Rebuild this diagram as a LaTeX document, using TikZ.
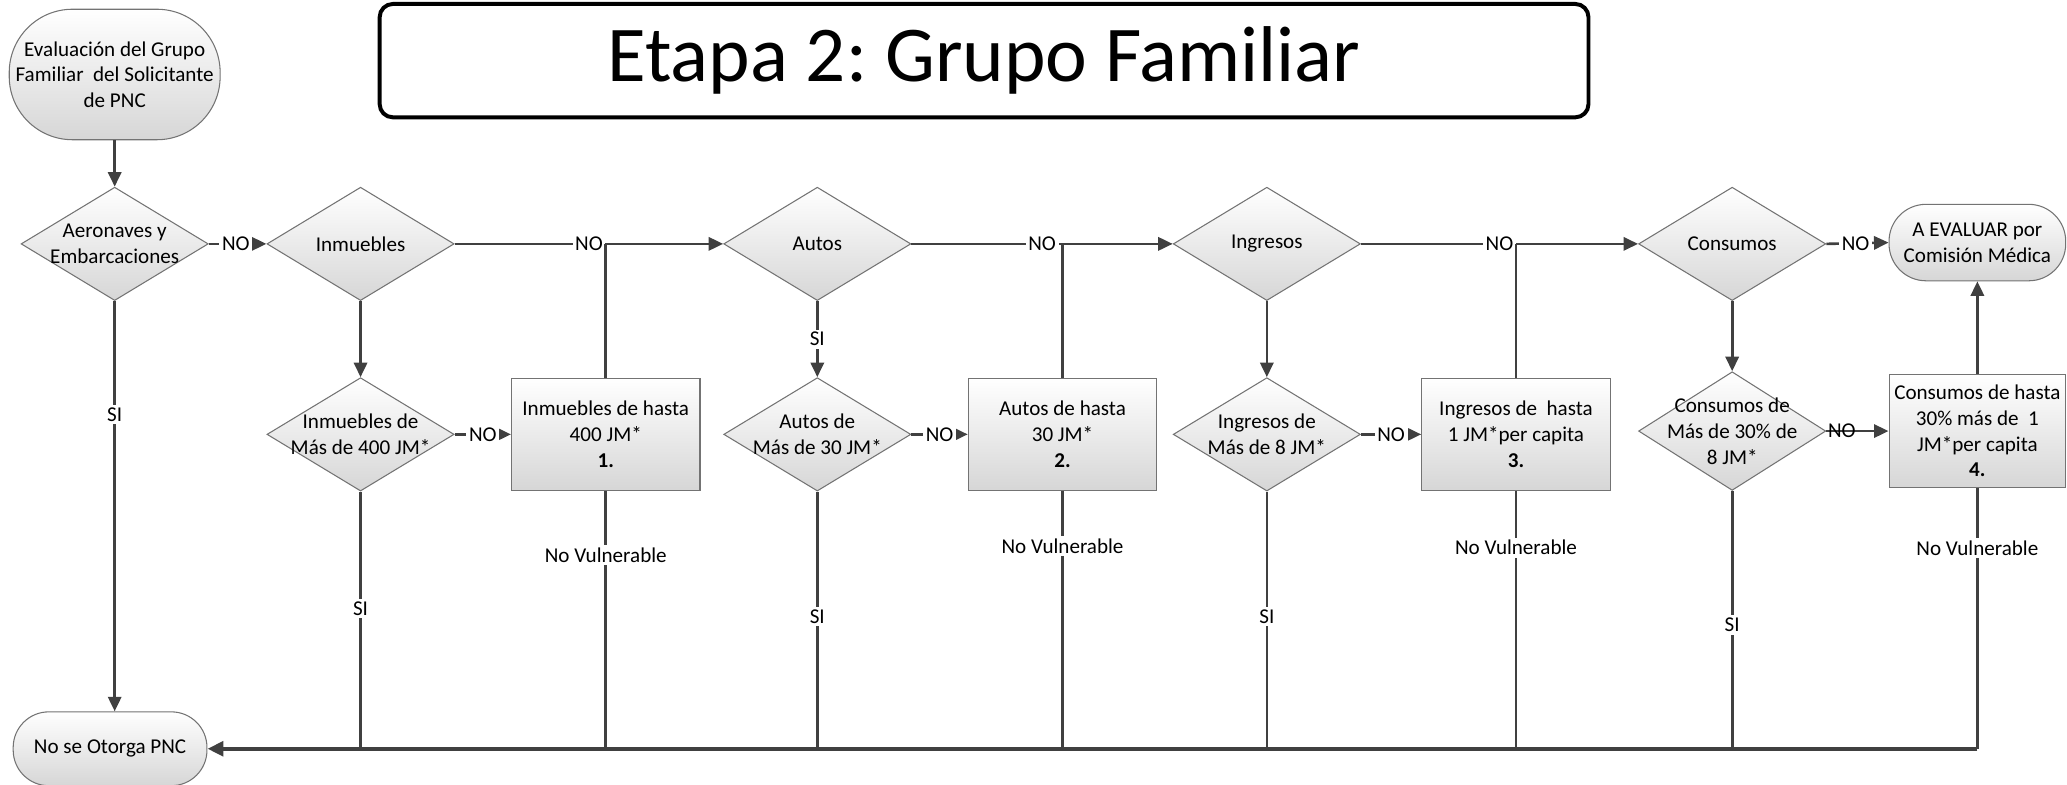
\documentclass[tikz,border=0pt]{standalone}
\usepackage{fontspec}
\setmainfont{Carlito}
\usetikzlibrary{shapes.geometric,arrows.meta,calc}
\frenchspacing
\begin{document}
\begin{tikzpicture}[x=0.5pt,y=-0.5pt,
  font=\fontsize{8}{9.75}\selectfont,
  shp/.style={draw=black!55, line width=0.4pt, top color=white, bottom color=black!16, align=center, inner sep=0pt},
  dia/.style={shp, diamond, minimum width=71pt, minimum height=43pt},
  boxn/.style={shp, rectangle, minimum width=71.5pt, minimum height=42.5pt},
  term/.style={shp, rectangle},
  conn/.style={draw=black!75, line width=1pt},
  arr/.style={conn, -{Triangle[length=5.5pt,width=5pt]}},
  lbl/.style={fill=white, inner sep=1pt, text=black},
  lbln/.style={inner sep=1pt, text=black},
  dtxt/.style={align=center, inner sep=0pt},
]
\useasboundingbox (0,0) rectangle (1568,595);

% title
\node[draw=black, line width=1.5pt, rounded corners=5pt, minimum width=458.5pt, minimum height=43pt, inner sep=0pt] (title) at (746.5,46) {\fontsize{30}{36}\selectfont Etapa 2: Grupo Familiar};

% terminals
\node[term, rounded corners=24pt, minimum width=80pt, minimum height=49.5pt] (start) at (87,56.5) {Evaluación del Grupo\\Familiar\ \ del Solicitante\\de PNC};
\node[term, rounded corners=13.5pt, minimum width=73.5pt, minimum height=28pt] (nose) at (83.5,568) {No se Otorga PNC};
\node[term, rounded corners=14pt, minimum width=67pt, minimum height=29pt] (eval) at (1500,184) {A EVALUAR por\\Comisión Médica};

% row 1 diamonds
\node[dia, label={[dtxt]center:Aeronaves y\\Embarcaciones}] (aero) at (87,185) {};
\node[dia, label={[dtxt]center:Inmuebles}] (inm) at (273.5,185) {};
\node[dia, label={[dtxt]center:Autos}] (autos) at (620,185) {};
\node[dia, label={[dtxt]center:Ingresos}] (ingr) at (961,185) {};
\node[dia, label={[dtxt]center:Consumos}] (cons) at (1314,185) {};

% row 2 diamonds
\node[dia, label={[dtxt]center:Inmuebles de\\Más de 400 JM*}] (d1) at (273.5,329.5) {};
\node[dia, label={[dtxt]center:Autos de\\Más de 30 JM*}] (d2) at (620,329.5) {};
\node[dia, label={[dtxt]center:Ingresos de\\Más de 8 JM*}] (d3) at (961,329.5) {};
\node[dia, minimum height=45pt, label={[dtxt]center:Consumos de\\Más de 30\% de\\8 JM*}] (d4) at (1314,327) {};

% boxes
\node[boxn] (b1) at (459.5,329.5) {Inmuebles de hasta\\400 JM*\\\textbf{1.}};
\node[boxn] (b2) at (806,329.5) {Autos de hasta\\30 JM*\\\textbf{2.}};
\node[boxn] (b3) at (1150,329.5) {Ingresos de\ \ hasta\\1 JM*per capita\\\textbf{3.}};
\node[boxn, minimum width=67pt, minimum height=43pt] (b4) at (1500,327) {Consumos de hasta\\30\% más de\ \ 1\\JM*per capita\\\textbf{4.}};

% main flow
\draw[arr] (start) -- (aero);
\draw[arr] (aero.east) -- node[lbl, pos=0.47]{NO} (inm.west);
\draw[arr] (inm.east) -- node[lbl]{NO} (autos.west);
\draw[arr] (autos.east) -- node[lbl]{NO} (ingr.west);
\draw[arr] (ingr.east) -- node[lbl]{NO} (cons.west);
\draw[arr] (cons.east) -- node[lbl, pos=0.47]{NO} (eval.west);

% junctions from boxes
\draw[conn] (b1.north) -- (b1.north |- inm.east);
\draw[conn] (b2.north) -- (b2.north |- autos.east);
\draw[conn] (b3.north) -- (b3.north |- ingr.east);
\draw[arr] (b4.north) -- (eval.south);

% down arrows
\draw[arr] (inm.south) -- (d1.north);
\draw[arr] (autos.south) -- node[lbl]{SI} (d2.north);
\draw[arr] (ingr.south) -- (d3.north);
\draw[arr] (cons.south) -- (d4.north);

% row 2 NO arrows
\draw[arr] (d1.east) -- node[lbl]{NO} (b1.west);
\draw[arr] (d2.east) -- node[lbl]{NO} (b2.west);
\draw[arr] (d3.east) -- node[lbl]{NO} (b3.west);
\draw[arr] (d4.east) -- node[lbln, pos=0.25]{NO} (b4.west);

% SI to bottom
\draw[arr] (aero.south) -- node[lbl, pos=0.276]{SI} (nose.north -| aero.south);
\draw[conn] (d1.south) -- node[lbl, pos=0.456]{SI} (d1.south |- nose.east);
\draw[conn] (d2.south) -- node[lbl, pos=0.487]{SI} (d2.south |- nose.east);
\draw[conn] (d3.south) -- node[lbl, pos=0.487]{SI} (d3.south |- nose.east);
\draw[conn] (d4.south) -- node[lbl, pos=0.52]{SI} (d4.south |- nose.east);

% No Vulnerable to bottom
\draw[conn] (b1.south) -- node[lbl, pos=0.25]{No Vulnerable} (b1.south |- nose.east);
\draw[conn] (b2.south) -- node[lbl, pos=0.215]{No Vulnerable} (b2.south |- nose.east);
\draw[conn] (b3.south) -- node[lbl, pos=0.22]{No Vulnerable} (b3.south |- nose.east);
\draw[conn] (b4.south) -- node[lbl, pos=0.23]{No Vulnerable} (b4.south |- nose.east);

% bottom collector
\draw[conn, line width=1.6pt, -{Triangle[length=6pt,width=5.5pt]}] (b4.south |- nose.east) -- (nose.east);
\end{tikzpicture}
\end{document}
